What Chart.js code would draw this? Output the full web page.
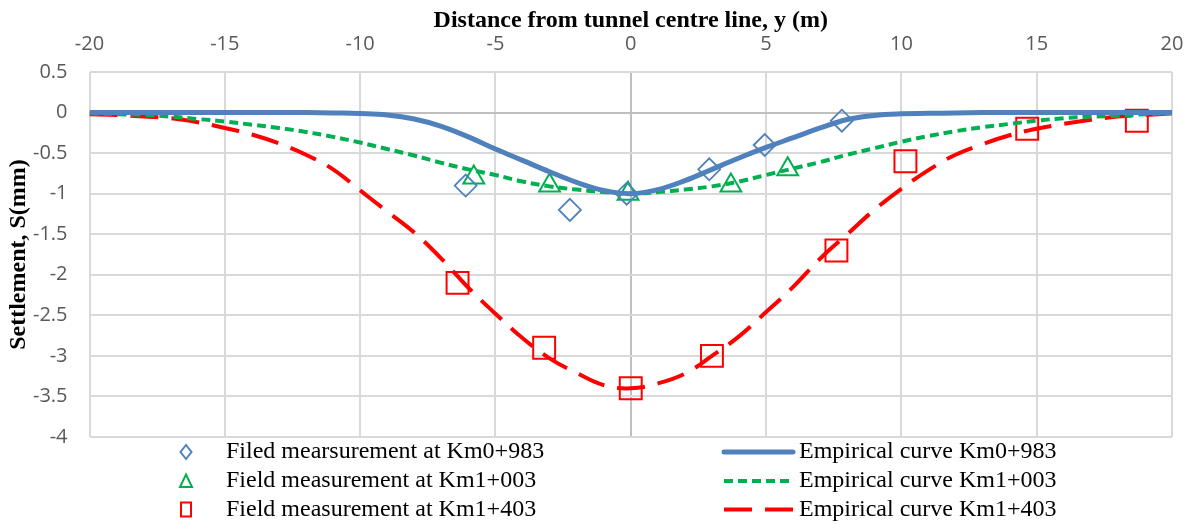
<!DOCTYPE html>
<html lang="en">
<head>
    <meta charset="UTF-8">
    <title>Settlement profile</title>
    <script src="https://cdn.jsdelivr.net/npm/chart.js"></script>
    <style>
        body {
            margin: 0;
            background: #fff;
        }
    </style>
</head>
<body>
    <canvas id="settlementChart" width="1192" height="524"></canvas>

    <script>
        // field measurements (m, mm)
        const km0983X = [-6.1, -2.25, -0.15, 2.9, 4.95, 7.8];
        const km0983Y = [-0.9, -1.2, -1.0, -0.7, -0.4, -0.1];

        const km1003X = [-5.8, -3.0, -0.1, 3.7, 5.8];
        const km1003Y = [-0.8, -0.9, -1.0, -0.9, -0.7];

        const km1403X = [-6.4, -3.2, 0, 3.0, 7.6, 10.15, 14.65, 18.7];
        const km1403Y = [-2.1, -2.9, -3.4, -3.0, -1.7, -0.6, -0.2, -0.1];

        // empirical curves
        const curveX = [-20, -19, -18, -17, -16, -15, -14, -13, -12, -11, -10, -9, -8, -7, -6, -5, -4, -3, -2, -1, 0,
            1, 2, 3, 4, 5, 6, 7, 8, 9, 10, 11, 12, 13, 14, 15, 16, 17, 18, 19, 20];

        const curveKm0983 = [0, 0, 0, 0, 0, 0, 0, 0, 0, -0.005, -0.012, -0.03, -0.08, -0.17, -0.30, -0.45, -0.59, -0.73, -0.86, -0.96, -1.0,
            -0.95, -0.84, -0.70, -0.56, -0.43, -0.31, -0.19, -0.085, -0.035, -0.015, -0.01, -0.005, 0, 0, 0, 0, 0, 0, 0, 0];

        const curveKm1003 = [-0.01, -0.02, -0.03, -0.05, -0.08, -0.11, -0.15, -0.19, -0.24, -0.3, -0.37, -0.45, -0.53, -0.62, -0.70, -0.77, -0.85, -0.91, -0.95, -0.98, -1.0,
            -0.98, -0.95, -0.91, -0.85, -0.77, -0.69, -0.61, -0.52, -0.44, -0.36, -0.29, -0.23, -0.18, -0.14, -0.1, -0.07, -0.05, -0.04, -0.02, -0.01];

        const curveKm1403 = [-0.02, -0.03, -0.05, -0.07, -0.12, -0.19, -0.27, -0.38, -0.52, -0.7, -0.96, -1.22, -1.48, -1.8, -2.16, -2.48, -2.78, -3.03, -3.21, -3.36, -3.4,
            -3.34, -3.22, -3.0, -2.76, -2.46, -2.15, -1.8, -1.5, -1.2, -0.94, -0.71, -0.52, -0.39, -0.28, -0.2, -0.14, -0.09, -0.05, -0.03, -0.01];

        const xTicks = [-20, -15, -10, -5, 0, 5, 10, 15, 20];
        const yTicks = [0.5, 0, -0.5, -1, -1.5, -2, -2.5, -3, -3.5, -4];

        const pointsLabels = ['Filed mearsurement at Km0+983', 'Field measurement at Km1+003', 'Field measurement at Km1+403'];
        const curveLabels = ['Empirical curve Km0+983', 'Empirical curve Km1+003', 'Empirical curve Km1+403'];

        const BLUE = '#4f81bd';
        const GREEN = '#00b050';
        const RED = '#ff0000';

        const toXY = (xs, ys) => xs.map((x, i) => ({ x: x, y: ys[i] }));

        const markerSets = [
            { label: pointsLabels[0], data: toXY(km0983X, km0983Y), pointStyle: 'rectRot', pointRadius: 11, borderColor: BLUE, pointBorderWidth: 1.8 },
            { label: pointsLabels[1], data: toXY(km1003X, km1003Y), pointStyle: 'triangle', pointRadius: 12, borderColor: GREEN, pointBorderWidth: 2 },
            { label: pointsLabels[2], data: toXY(km1403X, km1403Y), pointStyle: 'rect', pointRadius: 15.5, borderColor: RED, pointBorderWidth: 2 }
        ].map(d => Object.assign(d, {
            showLine: false,
            backgroundColor: 'rgba(0,0,0,0)',
            pointBackgroundColor: 'rgba(0,0,0,0)',
            pointBorderColor: d.borderColor,
            order: 2
        }));

        const curveSets = [
            { label: curveLabels[0], data: toXY(curveX, curveKm0983), borderColor: BLUE, borderWidth: 5, borderDash: [] },
            { label: curveLabels[1], data: toXY(curveX, curveKm1003), borderColor: GREEN, borderWidth: 4, borderDash: [9, 5] },
            { label: curveLabels[2], data: toXY(curveX, curveKm1403), borderColor: RED, borderWidth: 4, borderDash: [28, 13] }
        ].map(d => Object.assign(d, {
            showLine: true,
            pointRadius: 0,
            tension: 0.4,
            borderCapStyle: 'butt',
            fill: false,
            order: 1
        }));

        // legend drawn the way the spreadsheet lays it out: two columns, three rows
        const legendRows = [452, 481, 509.5];

        function legendMarker(ctx, style, x, y) {
            ctx.beginPath();
            if (style === 'rectRot') {
                ctx.moveTo(x, y - 7);
                ctx.lineTo(x + 5.5, y);
                ctx.lineTo(x, y + 7);
                ctx.lineTo(x - 5.5, y);
                ctx.closePath();
            } else if (style === 'triangle') {
                ctx.moveTo(x, y - 6.5);
                ctx.lineTo(x + 6, y + 6);
                ctx.lineTo(x - 6, y + 6);
                ctx.closePath();
            } else {
                ctx.rect(x - 5, y - 7, 10, 14);
            }
            ctx.stroke();
        }

        const legendPlugin = {
            id: 'twoColumnLegend',
            afterDraw(chart) {
                const ctx = chart.ctx;
                ctx.save();
                ctx.font = '24px "Liberation Serif"';
                ctx.textBaseline = 'middle';
                ctx.textAlign = 'left';

                markerSets.forEach((ds, i) => {
                    const y = legendRows[i];
                    ctx.strokeStyle = ds.borderColor;
                    ctx.lineWidth = 2;
                    ctx.setLineDash([]);
                    legendMarker(ctx, ds.pointStyle, 186, y);
                    ctx.fillStyle = '#000';
                    ctx.fillText(ds.label, 226, y);
                });

                curveSets.forEach((ds, i) => {
                    const y = legendRows[i];
                    ctx.strokeStyle = ds.borderColor;
                    ctx.lineWidth = ds.borderWidth;
                    ctx.lineCap = i === 0 ? 'round' : 'butt';
                    ctx.setLineDash(ds.borderDash);
                    ctx.beginPath();
                    ctx.moveTo(724, y);
                    ctx.lineTo(793, y);
                    ctx.stroke();
                    ctx.setLineDash([]);
                    ctx.fillStyle = '#000';
                    ctx.fillText(ds.label, 799, y);
                });
                ctx.restore();
            }
        };

        const gridColor = c => (c.tick && c.tick.value === 0) ? '#bfbfbf' : '#d9d9d9';

        new Chart(document.getElementById('settlementChart').getContext('2d'), {
            type: 'scatter',
            data: {
                datasets: [...curveSets, ...markerSets]
            },
            options: {
                responsive: false,
                animation: false,
                layout: {
                    padding: { left: 0, right: 20, top: 0, bottom: 87 }
                },
                plugins: {
                    legend: { display: false },
                    tooltip: { enabled: false }
                },
                scales: {
                    x: {
                        type: 'linear',
                        position: 'top',
                        min: -20,
                        max: 20,
                        afterBuildTicks: s => { s.ticks = xTicks.map(v => ({ value: v })); },
                        afterFit: s => { s.height = 72; s.paddingLeft = 0; s.paddingRight = 0; },
                        grid: { color: gridColor, lineWidth: 2, drawTicks: false },
                        border: { display: false },
                        ticks: {
                            padding: 16,
                            color: '#595959',
                            font: { family: '"Open Sans"', size: 20 },
                            callback: v => String(v)
                        },
                        title: {
                            display: true,
                            text: 'Distance from tunnel centre line, y (m)',
                            color: '#000',
                            font: { family: '"Liberation Serif"', size: 24, weight: 'bold' },
                            padding: { top: 6, bottom: 0 }
                        }
                    },
                    y: {
                        type: 'linear',
                        min: -4,
                        max: 0.5,
                        afterBuildTicks: s => { s.ticks = yTicks.map(v => ({ value: v })); },
                        afterFit: s => { s.width = 89.5; s.paddingTop = 0; s.paddingBottom = 0; },
                        grid: { color: gridColor, lineWidth: 2, drawTicks: false },
                        border: { display: false },
                        ticks: {
                            padding: 22,
                            color: '#595959',
                            font: { family: '"Open Sans"', size: 20 },
                            callback: v => String(v)
                        },
                        title: {
                            display: true,
                            text: 'Settlement, S(mm)',
                            color: '#000',
                            font: { family: '"Liberation Serif"', size: 24, weight: 'bold' },
                            padding: { top: 4, bottom: 0 }
                        }
                    }
                }
            },
            plugins: [legendPlugin]
        });
    </script>
</body>
</html>
